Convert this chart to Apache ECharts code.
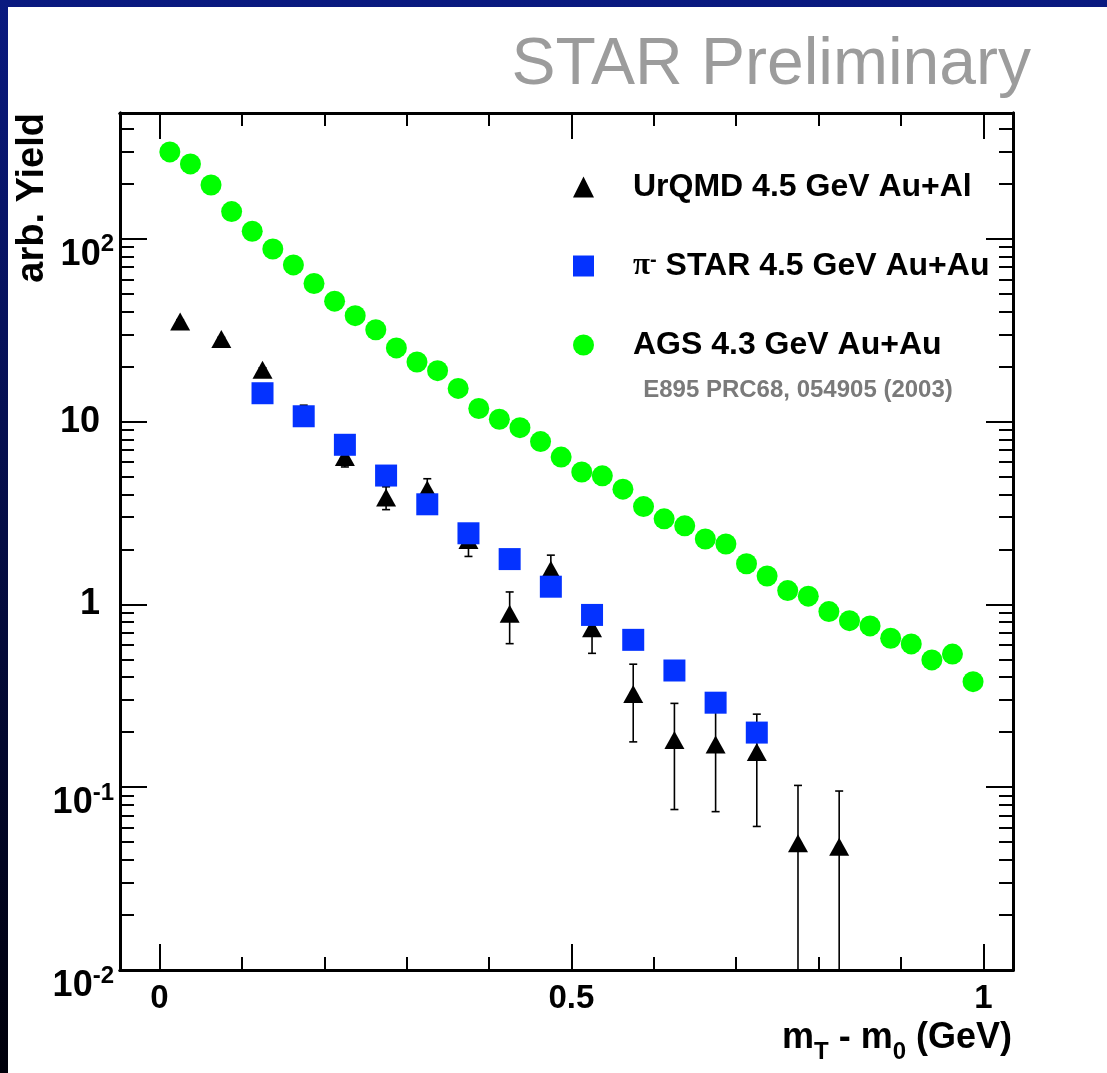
<!DOCTYPE html>
<html>
<head>
<meta charset="utf-8">
<script src="https://cdn.jsdelivr.net/npm/echarts@6/dist/echarts.min.js"></script>
<style>
html, body { margin: 0; padding: 0; }
body { width: 1107px; height: 1073px; position: relative; overflow: hidden;
       background: linear-gradient(#0a1a80, #00000a); }
#paper { position: absolute; left: 8px; top: 7px; right: 0; bottom: 0; background: #fff; }
#main { position: absolute; left: 0; top: 0; width: 1107px; height: 1073px; }
</style>
</head>
<body>
<div id="paper"></div>
<div id="main"></div>
<script>
// axis ranges
var xMin = -0.048, xMax = 1.036;
var yMin = 0.01, yMax = 488;

// tick values
var xMajorTicks = [0, 0.5, 1];
var xMinorTicks = [0.1, 0.2, 0.3, 0.4, 0.6, 0.7, 0.8, 0.9];
var yMajorTicks = [0.01, 0.1, 1, 10, 100];
var yMinorTicks = [0.02, 0.03, 0.04, 0.05, 0.06, 0.07, 0.08, 0.09,
                   0.2, 0.3, 0.4, 0.5, 0.6, 0.7, 0.8, 0.9,
                   2, 3, 4, 5, 6, 7, 8, 9,
                   20, 30, 40, 50, 60, 70, 80, 90,
                   200, 300, 400];

// UrQMD 4.5 GeV Au+Al (triangles, with errors)
var urqmdName = 'UrQMD 4.5 GeV Au+Al';
var urqmdX = [0.025, 0.075, 0.125, 0.175, 0.225, 0.275, 0.325, 0.375, 0.425,
              0.475, 0.525, 0.575, 0.625, 0.675, 0.725, 0.775, 0.825];
var urqmdY = [35.3, 28.3, 19.2, 11.0, 6.4, 3.85, 4.25, 2.25, 0.89,
              1.55, 0.74, 0.324, 0.1815, 0.1715, 0.156, 0.0493, 0.0473];
var urqmdErr = [0.8, 0.6, 0.5, 1.3, 0.75, 0.55, 0.62, 0.42, 0.28,
                0.31, 0.2, 0.147, 0.106, 0.098, 0.095, 0.053, 0.048];

// pi- STAR 4.5 GeV Au+Au (squares)
var starName = 'π- STAR 4.5 GeV Au+Au';
var starX = [0.125, 0.175, 0.225, 0.275, 0.325, 0.375, 0.425, 0.475, 0.525, 0.575, 0.625, 0.675, 0.725];
var starY = [14.3, 10.7, 7.47, 5.07, 3.53, 2.45, 1.77, 1.25, 0.876, 0.64, 0.435, 0.29, 0.199];

// AGS 4.3 GeV Au+Au (circles)
var agsName = 'AGS 4.3 GeV Au+Au';
var agsX = [0.0125, 0.0375, 0.0625, 0.0875, 0.1125, 0.1375, 0.1625, 0.1875, 0.2125, 0.2375,
            0.2625, 0.2875, 0.3125, 0.3375, 0.3625, 0.3875, 0.4125, 0.4375, 0.4625, 0.4875,
            0.5125, 0.5375, 0.5625, 0.5875, 0.6125, 0.6375, 0.6625, 0.6875, 0.7125, 0.7375,
            0.7625, 0.7875, 0.8125, 0.8375, 0.8625, 0.8875, 0.9125, 0.9375, 0.9625, 0.9875];
var agsY = [299, 257, 197, 141, 110, 88, 72, 57, 45.6, 38,
            31.8, 25.3, 21.2, 19.0, 15.2, 11.8, 10.3, 9.27, 7.78, 6.4,
            5.3, 5.05, 4.27, 3.43, 2.94, 2.69, 2.28, 2.14, 1.67, 1.43,
            1.19, 1.11, 0.914, 0.815, 0.763, 0.653, 0.608, 0.497, 0.535, 0.378];

var font = '"Liberation Sans", Arial, Helvetica, sans-serif';

function zip(xs, ys) {
    return xs.map(function (x, i) { return [x, ys[i]]; });
}

function xAx(pos, vals, len, withLabel) {
    return {
        type: 'value', gridIndex: 0, position: pos, min: xMin, max: xMax,
        axisLine: { show: true, onZero: false, lineStyle: { color: '#000', width: 3 } },
        axisTick: { show: true, inside: true, length: len, customValues: vals,
                    lineStyle: { color: '#000', width: 2 } },
        axisLabel: withLabel ? {
            show: true, customValues: vals, margin: 12,
            fontSize: 33, fontWeight: 'bold', color: '#000', fontFamily: font,
            formatter: function (v) { return String(v); }
        } : { show: false },
        splitLine: { show: false }, minorTick: { show: false }
    };
}

function yAx(pos, vals, len, withLabel) {
    return {
        type: 'log', logBase: 10, gridIndex: 0, position: pos, min: yMin, max: yMax,
        axisLine: { show: true, onZero: false, lineStyle: { color: '#000', width: 3 } },
        axisTick: { show: true, inside: true, length: len, customValues: vals,
                    lineStyle: { color: '#000', width: 2 } },
        axisLabel: withLabel ? {
            show: true, customValues: vals, margin: 6, color: '#000', fontFamily: font,
            formatter: function (v) {
                var e = Math.round(Math.log(v) / Math.LN10);
                if (e === 0) return '{n|1}';
                if (e === 1) return '{n|10}';
                return '{m|10}{s|' + e + '}';
            },
            rich: {
                n: { fontSize: 36, fontWeight: 'bold', fontFamily: font, lineHeight: 36, padding: [0, 14, 0, 0] },
                m: { fontSize: 36, fontWeight: 'bold', fontFamily: font, lineHeight: 36, padding: [16, 0, 0, 0], verticalAlign: 'top' },
                s: { fontSize: 24, fontWeight: 'bold', fontFamily: font, lineHeight: 24, padding: [12, 0, 0, 0], verticalAlign: 'top' }
            }
        } : { show: false },
        splitLine: { show: false }, minorTick: { show: false }
    };
}

var chart = echarts.init(document.getElementById('main'), null, { renderer: 'canvas' });

var option = {
    animation: false,
    backgroundColor: 'transparent',
    textStyle: { fontFamily: font },
    grid: { left: 120, right: 94, top: 113, bottom: 103, containLabel: false },
    xAxis: [
        xAx('bottom', xMajorTicks, 26, true),
        xAx('bottom', xMinorTicks, 13, false),
        xAx('top', xMajorTicks, 26, false),
        xAx('top', xMinorTicks, 13, false)
    ],
    yAxis: [
        yAx('left', yMajorTicks, 27, true),
        yAx('left', yMinorTicks, 14, false),
        yAx('right', yMajorTicks, 27, false),
        yAx('right', yMinorTicks, 14, false)
    ],
    legend: {
        data: [urqmdName, starName, agsName],
        orient: 'vertical', left: 568, top: 166,
        itemWidth: 21, itemHeight: 21, itemGap: 47,
        selectedMode: false,
        formatter: function (name) {
            if (name === starName) return '{g| }{pi|π}{sup|-}{t| STAR 4.5 GeV Au+Au}';
            return '{g| }{t|' + name + '}';
        },
        textStyle: {
            color: '#000', fontSize: 32, fontWeight: 'bold', lineHeight: 31,
            rich: {
                g: { width: 34 },
                t: { fontSize: 32, fontWeight: 'bold', fontFamily: font, lineHeight: 31, color: '#000' },
                pi: { fontSize: 31, fontFamily: '"Liberation Serif", serif', lineHeight: 31, color: '#000' },
                sup: { fontSize: 20, fontWeight: 'bold', fontFamily: font, lineHeight: 20, verticalAlign: 'top', color: '#000' }
            }
        }
    },
    graphic: [
        { type: 'text', right: 1107 - 1031, top: 33, z: 10,
          style: { text: 'STAR Preliminary', fontSize: 66, fontFamily: font, fill: '#9c9c9c' } },
        { type: 'text', x: 33, y: 113, rotation: Math.PI / 2, z: 10,
          style: { text: 'arb. Yield', fontSize: 38, fontWeight: 'bold', fontFamily: font, fill: '#000',
                   align: 'right', verticalAlign: 'middle' } },
        { type: 'text', x: 1012, y: 1020, z: 10,
          style: {
              text: '{b|m}{s|T}{b| - m}{s|0}{b| (GeV)}', align: 'right', verticalAlign: 'top',
              rich: {
                  b: { fontSize: 36, fontWeight: 'bold', fontFamily: font, lineHeight: 36, verticalAlign: 'top', fill: '#000' },
                  s: { fontSize: 24, fontWeight: 'bold', fontFamily: font, lineHeight: 24, verticalAlign: 'top', padding: [20, 0, 0, 0], fill: '#000' }
              }
          } },
        { type: 'text', x: 798, y: 390, z: 10,
          style: { text: 'E895 PRC68, 054905 (2003)', fontSize: 24, fontWeight: 'bold', fontFamily: font,
                   fill: '#7a7a7a', align: 'center', verticalAlign: 'middle' } }
    ],
    series: [
        {
            type: 'custom', xAxisIndex: 0, yAxisIndex: 0, clip: true, z: 2,
            encode: { x: 0, y: 1 },
            data: urqmdX.map(function (x, i) { return [x, urqmdY[i], urqmdErr[i]]; }),
            renderItem: function (params, api) {
                var x = api.value(0), y = api.value(1), e = api.value(2);
                var low = y - e > 0 ? y - e : 1e-4;
                var top = api.coord([x, y + e]);
                var bot = api.coord([x, low]);
                var st = { stroke: '#000', lineWidth: 1.6 };
                var kids = [
                    { type: 'line', shape: { x1: top[0], y1: top[1], x2: bot[0], y2: bot[1] }, style: st },
                    { type: 'line', shape: { x1: top[0] - 4, y1: top[1], x2: top[0] + 4, y2: top[1] }, style: st }
                ];
                if (y - e > 0) {
                    kids.push({ type: 'line', shape: { x1: bot[0] - 4, y1: bot[1], x2: bot[0] + 4, y2: bot[1] }, style: st });
                }
                return { type: 'group', children: kids };
            }
        },
        {
            name: urqmdName, type: 'scatter', xAxisIndex: 0, yAxisIndex: 0, z: 3,
            symbol: 'triangle', symbolSize: [20, 18],
            itemStyle: { color: '#000', opacity: 1 },
            data: zip(urqmdX, urqmdY)
        },
        {
            name: starName, type: 'scatter', xAxisIndex: 0, yAxisIndex: 0, z: 4,
            symbol: 'rect', symbolSize: 22,
            itemStyle: { color: '#0432ff', opacity: 1 },
            data: zip(starX, starY)
        },
        {
            name: agsName, type: 'scatter', xAxisIndex: 0, yAxisIndex: 0, z: 5,
            symbol: 'circle', symbolSize: 21,
            itemStyle: { color: '#00ff00', opacity: 1 },
            data: zip(agsX, agsY)
        }
    ]
};

chart.setOption(option);
</script>
</body>
</html>
